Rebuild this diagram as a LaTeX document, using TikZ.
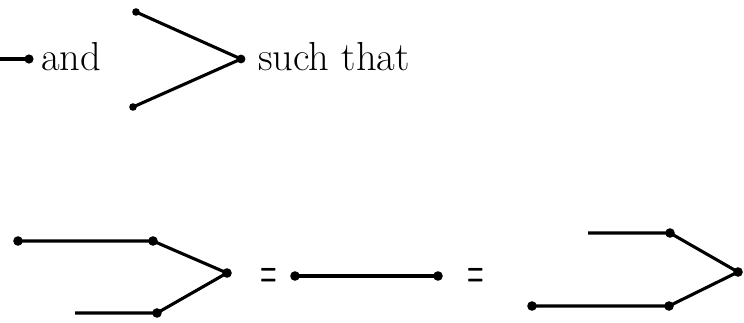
\documentclass[tikz,border=0pt]{standalone}
\usepackage{graphicx}
\begin{document}
\begin{tikzpicture}[x=1pt,y=-1pt,
  edge/.style={line width=3.1pt},
  dotfill/.style={fill=black},
  lbl/.style={inner sep=0pt,font=\fontsize{40.5}{48}\selectfont},
  eqsign/.style={inner sep=0pt,font=\fontsize{19}{22}\selectfont\bfseries}]
\useasboundingbox (0,0) rectangle (744,322);
% top row
\coordinate (t0) at (0,59);
\coordinate (t1) at (29,59);
\node[lbl,anchor=base west] (and) at (41,70) {and};
\coordinate (a1) at (136,12);
\coordinate (a2) at (133,107);
\coordinate (ap) at (241,59);
\node[lbl,anchor=base west] (such) at (258,70) {such that};
\draw[edge] (t0) -- (t1);
\draw[edge] (a1) -- (ap) -- (a2);
\foreach \p/\r in {t1/4.6,a1/3.8,a2/3.8,ap/4.4} \fill[dotfill] (\p) circle (\r);
% bottom row left
\coordinate (b1) at (18,241);
\coordinate (b2) at (153,241);
\coordinate (b3) at (227,273);
\coordinate (b4) at (157,313);
\coordinate (b5) at (75,313);
\draw[edge] (b1) -- (b2) -- (b3) -- (b4) -- (b5);
\foreach \p in {b1,b2,b3,b4} \fill[dotfill] (\p) circle (4.8);
\node[eqsign] (eq1) at (268.5,278) {\scalebox{1}[2.6]{=}};
% middle
\coordinate (m1) at (295,276);
\coordinate (m2) at (438,276);
\draw[edge] (m1) -- (m2);
\foreach \p in {m1,m2} \fill[dotfill] (\p) circle (4.8);
\node[eqsign] (eq2) at (476,278) {\scalebox{1}[2.6]{=}};
% right
\coordinate (c1) at (588,233);
\coordinate (c2) at (670,233);
\coordinate (c3) at (738,272);
\coordinate (c4) at (669,306);
\coordinate (c5) at (532,306);
\draw[edge] (c1) -- (c2) -- (c3) -- (c4) -- (c5);
\foreach \p in {c2,c3,c4,c5} \fill[dotfill] (\p) circle (4.8);
\end{tikzpicture}
\end{document}
